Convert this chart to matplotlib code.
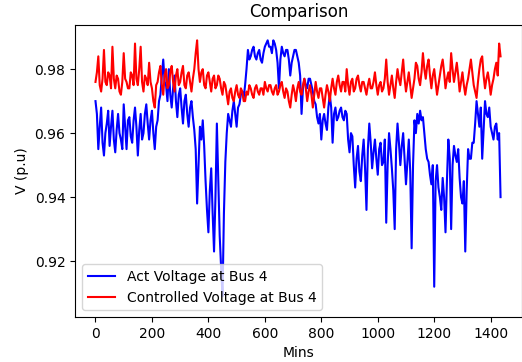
import numpy as np
import matplotlib
matplotlib.use('Agg')
import matplotlib.pyplot as plt

act_voltage = [
    0.970, 0.966, 0.955, 0.962, 0.968, 0.957, 0.953, 0.960, 0.963, 0.967, 0.956, 0.962,
    0.967, 0.958, 0.954, 0.961, 0.966, 0.960, 0.958, 0.955, 0.969, 0.962, 0.955, 0.964,
    0.965, 0.959, 0.957, 0.964, 0.968, 0.962, 0.953, 0.961, 0.966, 0.958, 0.960, 0.966,
    0.969, 0.963, 0.958, 0.964, 0.967, 0.960, 0.955, 0.962, 0.964, 0.970, 0.972, 0.978,
    0.983, 0.976, 0.975, 0.970, 0.980, 0.972, 0.968, 0.974, 0.978, 0.970, 0.965, 0.972,
    0.974, 0.968, 0.963, 0.970, 0.972, 0.966, 0.962, 0.968, 0.970, 0.965, 0.961, 0.955,
    0.938, 0.950, 0.962, 0.958, 0.964, 0.956, 0.945, 0.936, 0.929, 0.942, 0.949, 0.935,
    0.923, 0.940, 0.963, 0.945, 0.928, 0.918, 0.909, 0.935, 0.951, 0.960, 0.966, 0.964,
    0.962, 0.967, 0.970, 0.966, 0.962, 0.968, 0.969, 0.972, 0.973, 0.971, 0.975, 0.980,
    0.986, 0.983, 0.984, 0.986, 0.987, 0.984, 0.983, 0.985, 0.986, 0.983, 0.982, 0.985,
    0.987, 0.988, 0.989, 0.987, 0.987, 0.985, 0.989, 0.988, 0.986, 0.982, 0.974, 0.983,
    0.987, 0.985, 0.984, 0.986, 0.986, 0.983, 0.978, 0.982, 0.984, 0.986, 0.986, 0.984,
    0.982, 0.978, 0.966, 0.974, 0.977, 0.975, 0.974, 0.977, 0.977, 0.975, 0.973, 0.970,
    0.969, 0.965, 0.963, 0.966, 0.958, 0.964, 0.966, 0.963, 0.961, 0.968, 0.972, 0.968,
    0.957, 0.966, 0.968, 0.964, 0.965, 0.967, 0.968, 0.965, 0.964, 0.967, 0.966, 0.958,
    0.954, 0.960, 0.959, 0.950, 0.943, 0.952, 0.956, 0.948, 0.945, 0.953, 0.958, 0.949,
    0.936, 0.955, 0.963, 0.957, 0.949, 0.954, 0.958, 0.952, 0.947, 0.955, 0.957, 0.950,
    0.951, 0.958, 0.932, 0.950, 0.960, 0.955, 0.949, 0.942, 0.930, 0.955, 0.963, 0.957,
    0.950, 0.956, 0.960, 0.952, 0.944, 0.951, 0.958, 0.948, 0.924, 0.950, 0.964, 0.960,
    0.966, 0.963, 0.967, 0.964, 0.965, 0.960, 0.955, 0.952, 0.951, 0.947, 0.944, 0.950,
    0.912, 0.945, 0.950, 0.943, 0.940, 0.936, 0.946, 0.940, 0.929, 0.945, 0.958, 0.952,
    0.930, 0.950, 0.956, 0.953, 0.951, 0.955, 0.946, 0.940, 0.938, 0.945, 0.923, 0.942,
    0.955, 0.952, 0.952, 0.957, 0.957, 0.963, 0.970, 0.966, 0.962, 0.968, 0.952, 0.961,
    0.970, 0.966, 0.965, 0.968, 0.962, 0.960, 0.958, 0.962, 0.963, 0.958, 0.960, 0.940,
]
ctrl_voltage = [
    0.976, 0.979, 0.984, 0.975, 0.973, 0.977, 0.986, 0.976, 0.975, 0.979, 0.978, 0.974,
    0.987, 0.977, 0.974, 0.978, 0.977, 0.973, 0.972, 0.976, 0.985, 0.977, 0.976, 0.974,
    0.974, 0.979, 0.978, 0.975, 0.988, 0.977, 0.975, 0.980, 0.987, 0.976, 0.973, 0.978,
    0.977, 0.975, 0.982, 0.976, 0.974, 0.970, 0.968, 0.975, 0.976, 0.979, 0.981, 0.975,
    0.972, 0.978, 0.980, 0.974, 0.975, 0.979, 0.981, 0.976, 0.973, 0.978, 0.980, 0.975,
    0.976, 0.979, 0.981, 0.975, 0.974, 0.978, 0.979, 0.976, 0.973, 0.977, 0.980, 0.985,
    0.989, 0.980, 0.976, 0.979, 0.980, 0.975, 0.974, 0.978, 0.979, 0.976, 0.973, 0.977,
    0.978, 0.974, 0.975, 0.978, 0.977, 0.974, 0.972, 0.976, 0.975, 0.972, 0.969, 0.973,
    0.974, 0.971, 0.970, 0.973, 0.975, 0.972, 0.971, 0.974, 0.973, 0.970, 0.970, 0.973,
    0.972, 0.975, 0.974, 0.972, 0.971, 0.974, 0.975, 0.973, 0.972, 0.974, 0.974, 0.972,
    0.976, 0.974, 0.973, 0.975, 0.975, 0.973, 0.972, 0.974, 0.975, 0.972, 0.973, 0.975,
    0.976, 0.973, 0.971, 0.974, 0.973, 0.970, 0.968, 0.972, 0.975, 0.973, 0.970, 0.974,
    0.976, 0.973, 0.972, 0.975, 0.977, 0.974, 0.970, 0.973, 0.975, 0.972, 0.968, 0.972,
    0.976, 0.973, 0.971, 0.974, 0.974, 0.971, 0.968, 0.972, 0.975, 0.973, 0.970, 0.974,
    0.977, 0.974, 0.972, 0.976, 0.978, 0.975, 0.973, 0.976, 0.976, 0.973, 0.980, 0.975,
    0.972, 0.976, 0.977, 0.973, 0.974, 0.977, 0.978, 0.975, 0.973, 0.976, 0.976, 0.974,
    0.972, 0.975, 0.977, 0.974, 0.974, 0.976, 0.979, 0.975, 0.972, 0.975, 0.976, 0.973,
    0.974, 0.977, 0.983, 0.976, 0.972, 0.975, 0.978, 0.974, 0.971, 0.976, 0.980, 0.977,
    0.975, 0.979, 0.983, 0.977, 0.973, 0.976, 0.979, 0.975, 0.971, 0.974, 0.977, 0.982,
    0.981, 0.977, 0.975, 0.979, 0.985, 0.980, 0.977, 0.981, 0.983, 0.978, 0.974, 0.978,
    0.980, 0.976, 0.972, 0.975, 0.978, 0.981, 0.983, 0.979, 0.974, 0.977, 0.979, 0.976,
    0.985, 0.980, 0.976, 0.979, 0.982, 0.978, 0.973, 0.976, 0.979, 0.975, 0.972, 0.975,
    0.977, 0.980, 0.983, 0.979, 0.975, 0.973, 0.971, 0.976, 0.980, 0.983, 0.984, 0.978,
    0.974, 0.977, 0.979, 0.976, 0.972, 0.975, 0.977, 0.980, 0.982, 0.978, 0.988, 0.984,
]
mins = np.arange(len(act_voltage)) * 5

fig = plt.figure(figsize=(5.22, 3.62), dpi=100)
ax = fig.add_axes([0.144, 0.124, 0.856, 0.807])
ax.plot(mins, act_voltage, color='b', lw=1.5, label='Act Voltage at Bus 4')
ax.plot(mins, ctrl_voltage, color='r', lw=1.5, label='Controlled Voltage at Bus 4')
ax.set_ylim(0.9025, 0.9938)
ax.set_xlim(-72, 1511)
ax.set_xticks([0, 200, 400, 600, 800, 1000, 1200, 1400])
ax.set_yticks([0.92, 0.94, 0.96, 0.98])
ax.set_title('Comparison')
ax.set_xlabel('Mins')
ax.set_ylabel('V (p.u)')
ax.legend(loc='lower left')
fig.savefig('out.png')
